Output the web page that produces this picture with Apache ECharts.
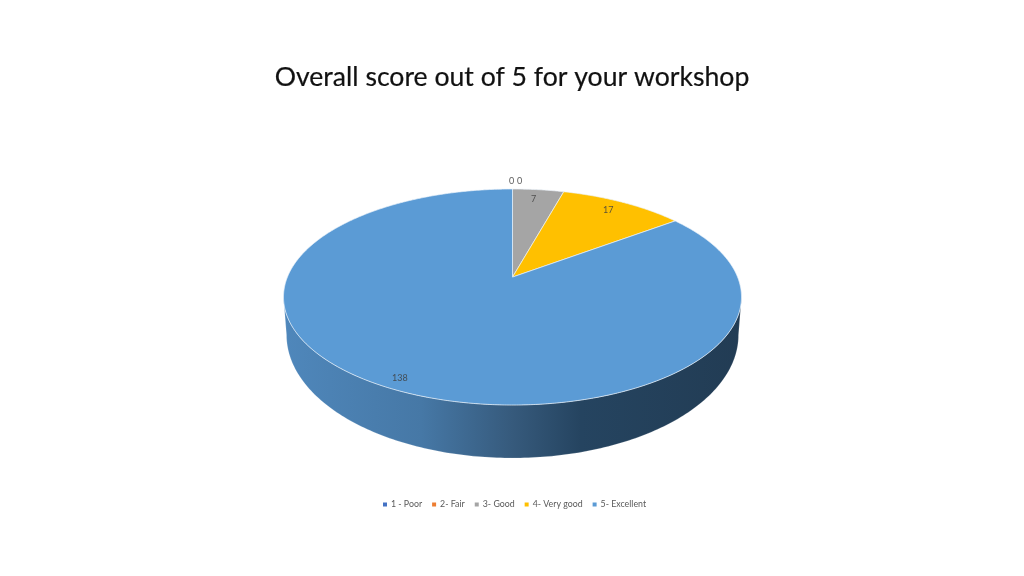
<!DOCTYPE html>
<html><head><meta charset="utf-8">
<style>html,body{margin:0;padding:0;background:#fff}#c{width:1024px;height:576px}</style>
<script src="https://cdn.jsdelivr.net/npm/echarts@6/dist/echarts.min.js"></script>
</head><body><div id="c"></div>
<script>
const categories = ['1 - Poor', '2- Fair', '3- Good', '4- Very good', '5- Excellent'];
const values = [0, 0, 7, 17, 138];
const colors = ['#4472c4', '#ed7d31', '#a5a5a5', '#ffc000', '#5b9bd5'];
const titleText = 'Overall score out of 5 for your workshop';

// layout of the tilted pie
const TOP = {cx: 512.5, cy: 297, rx: 229, ry: 108};
const BOTTOM = {cx: 512.5, cy: 335, rx: 226, ry: 123};
const PERSPECTIVE = 0.83;
// label placement per slice: [fraction apex→rim, nudge x, nudge y]
const labelPlace = [[1.09, -1, 0.5], [1.09, 7, 0.5], [0.9, -2, 1], [0.866, 0, -2], [0.932, 0, -3]];
const wallStops = [
  {offset: 0, color: '#4f87bb'}, {offset: 0.3, color: '#4678a6'}, {offset: 0.5, color: '#365a7c'},
  {offset: 0.65, color: '#254460'}, {offset: 1, color: '#223c54'}
];

const total = values.reduce((a, b) => a + b, 0);
const deg = Math.PI / 180;
// pie angle → angle around the drawn ellipse
const warp = th => 2 * Math.atan2(PERSPECTIVE * Math.sin(th / 2), Math.cos(th / 2));
const onEll = (e, t) => [e.cx + e.rx * Math.sin(t), e.cy - e.ry * Math.cos(t)];
const apex = onEll(TOP, warp(Math.PI / 2))[1];
const apexPt = [TOP.cx, apex];

function sliceItem(i) {
  const before = values.slice(0, i).reduce((a, b) => a + b, 0);
  const a0 = before / total * 2 * Math.PI, a1 = (before + values[i]) / total * 2 * Math.PI;
  const kids = [];
  const t0 = warp(a0), t1 = warp(a1);
  // side wall: the part of the slice facing the viewer
  const w0 = Math.max(t0, 90 * deg), w1 = Math.min(t1, 270 * deg);
  if (w1 > w0) {
    const pts = [];
    for (let t = w0; t <= w1 + 1e-6; t += deg) pts.push(onEll(TOP, t));
    for (let t = w1; t >= w0 - 1e-6; t -= deg) pts.push(onEll(BOTTOM, t));
    kids.push({type: 'polygon', shape: {points: pts}, style: {
      fill: {type: 'linear', x: 284, y: 0, x2: 741, y2: 0, global: true, colorStops: wallStops},
      stroke: 'rgba(255,255,255,0.35)', lineWidth: 0.5}});
  }
  // top face
  if (values[i] > 0) {
    const pts = [apexPt];
    const n = Math.max(2, Math.ceil((a1 - a0) / (0.5 * deg)));
    for (let k = 0; k <= n; k++) pts.push(onEll(TOP, warp(a0 + (a1 - a0) * k / n)));
    kids.push({type: 'polygon', shape: {points: pts}, style: {
      fill: colors[i], stroke: 'rgba(235,243,250,0.85)', lineWidth: 0.8, lineJoin: 'round'}});
  }
  // value label
  const mid = warp((a0 + a1) / 2), rim = onEll(TOP, mid), p = labelPlace[i];
  kids.push({type: 'text', z2: 50, style: {
    x: apexPt[0] + (rim[0] - apexPt[0]) * p[0] + p[1],
    y: apexPt[1] + (rim[1] - apexPt[1]) * p[0] + p[2],
    text: String(values[i]), align: 'center', verticalAlign: 'middle',
    fill: '#404040', opacity: 0.85, font: '9px Lato'}});
  return {type: 'group', children: kids};
}

const chart = echarts.init(document.getElementById('c'), null, {renderer: 'canvas'});
chart.setOption({
  animation: false,
  backgroundColor: '#fff',
  title: {text: titleText, left: 'center', top: 59, textStyle: {
    fontFamily: 'Lato', fontSize: 26.6, fontWeight: 'normal', color: '#111',
    textBorderColor: '#111', textBorderWidth: 0.2}},
  legend: {
    data: categories, left: 378, top: 495, icon: 'rect', itemWidth: 4, itemHeight: 4,
    itemGap: 10, textStyle: {fontFamily: 'Lato', fontSize: 8.8, color: '#595959', padding: [0, 0, 0, -1]}
  },
  series: categories.map((name, i) => ({
    type: 'custom', name, coordinateSystem: 'none', silent: true,
    itemStyle: {color: colors[i]},
    data: [values[i]],
    renderItem: () => sliceItem(i)
  }))
});
</script></body></html>
